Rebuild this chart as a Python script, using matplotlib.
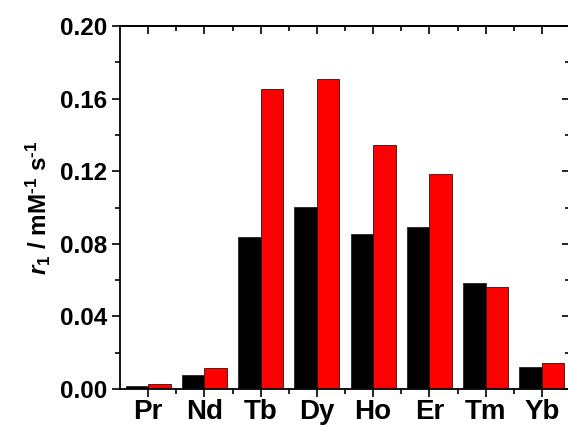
import numpy as np
import matplotlib
matplotlib.use("Agg")
import matplotlib.pyplot as plt
from matplotlib.ticker import MultipleLocator, FixedLocator

# ── Data ─────────────────────────────────────────────────────────────────────
elements = ["Pr", "Nd", "Tb", "Dy", "Ho", "Er", "Tm", "Yb"]
r1_black = [0.0015, 0.0075, 0.0835, 0.1004, 0.0855, 0.0892, 0.0583, 0.0123]
r1_red   = [0.0030, 0.0113, 0.1651, 0.1708, 0.1344, 0.1183, 0.0563, 0.0146]

# ── Style ────────────────────────────────────────────────────────────────────
plt.rcParams["font.family"] = ["Liberation Sans", "DejaVu Sans"]
plt.rcParams["font.weight"] = "bold"
plt.rcParams["mathtext.fontset"] = "custom"
plt.rcParams["mathtext.rm"] = "Liberation Sans:bold"
plt.rcParams["mathtext.it"] = "Liberation Sans:bold:italic"
plt.rcParams["mathtext.bf"] = "Liberation Sans:bold"
plt.rcParams["axes.linewidth"] = 1.3

fig = plt.figure(figsize=(5.68, 4.26), dpi=100)
ax = fig.add_axes([120 / 568, 37 / 426, 450 / 568, 363 / 426])

x = np.arange(len(elements))
w = 0.4
ax.bar(x - w / 2, r1_black, width=w, color="black", edgecolor="#222222", linewidth=0.6)
ax.bar(x + w / 2, r1_red, width=w, color="#ff0000", edgecolor="#331111", linewidth=0.6)

ax.set_xlim(-0.5, 7.5)
ax.set_ylim(0, 0.20)

ax.set_xticks(x)
ax.set_xticklabels(elements, fontsize=20, fontweight="bold")
ax.xaxis.set_minor_locator(FixedLocator(x[:-1] + 0.5))
ax.yaxis.set_major_locator(MultipleLocator(0.04))
ax.yaxis.set_minor_locator(MultipleLocator(0.02))
ax.set_yticklabels([f"{v:.2f}" for v in ax.get_yticks()], fontsize=17.5, fontweight="bold")

ax.tick_params(which="major", direction="out", length=6, width=1.2, pad=3)
ax.tick_params(which="minor", direction="out", length=3.5, width=1.2)
ax.tick_params(axis="x", which="major", pad=1)

ax.set_ylabel("$r_1$ / mM$^{\u20101}$ s$^{\u20101}$", fontsize=17.5, fontweight="bold", labelpad=5)

# mirrored inward ticks on top and right
top = ax.secondary_xaxis("top")
top.set_xticks(x)
top.xaxis.set_minor_locator(FixedLocator(x[:-1] + 0.5))
top.tick_params(which="major", direction="in", length=6, width=1.2, labeltop=False)
top.tick_params(which="minor", direction="in", length=3.5, width=1.2)

right = ax.secondary_yaxis("right")
right.yaxis.set_major_locator(MultipleLocator(0.04))
right.yaxis.set_minor_locator(MultipleLocator(0.02))
right.tick_params(which="major", direction="in", length=6, width=1.2, labelright=False)
right.tick_params(which="minor", direction="in", length=3.5, width=1.2)

fig.savefig("out.png", dpi=100)
